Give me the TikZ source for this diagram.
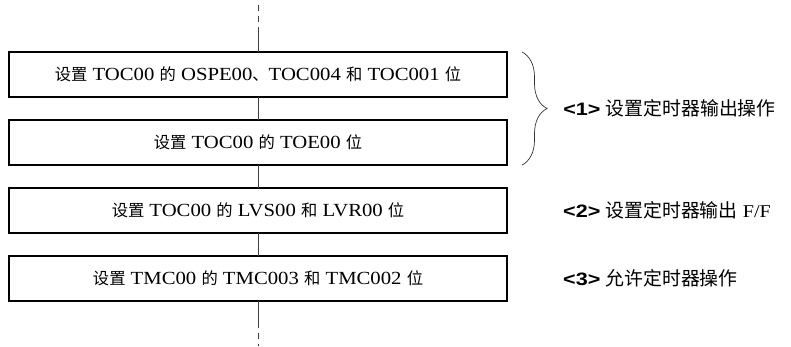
\documentclass[tikz,border=0pt]{standalone}
\usepackage{fontspec}
\setmainfont{Liberation Serif}[FakeStretch=1.12]
\newfontfamily\cjkfont{Noto Sans CJK SC}[Scale=0.88]
\newfontfamily\cjklabel{Noto Sans CJK SC}[Scale=1.05]
\newfontfamily\numfont{Liberation Sans}[FakeStretch=1.2]
\newcommand\zh[1]{{\cjkfont #1}}
\newcommand\zhl[1]{{\cjklabel #1}}
\newcommand\stepno[1]{{\numfont\bfseries <#1>}}
\usetikzlibrary{positioning, decorations.pathreplacing}
\tikzset{
  box/.style={draw=black, rectangle, line width=2.4pt, minimum width=498pt, minimum height=45pt, outer sep=0pt, inner sep=0pt, font=\fontsize{18.5}{22}\selectfont},
  line/.style={draw=black!75, line width=0.8pt},
  dashline/.style={line, dash pattern=on 6pt off 5pt},
  note/.style={anchor=west, inner sep=0pt, font=\fontsize{18}{22}\selectfont},
  bracket/.style={draw=black!80, line width=0.7pt, decorate, decoration={brace, amplitude=25pt}}
}

\begin{document}
\begin{tikzpicture}[x=1pt, y=1pt, node distance=23pt]
\useasboundingbox (0,0) rectangle (791,-346);

\node[box] (set1) at (258,-74.5) {\zh{设置} TOC00 \zh{的} OSPE00\zh{、}TOC004 \zh{和} TOC001 \zh{位}};

\node[box, below=of set1] (set2) {\zh{设置} TOC00 \zh{的} TOE00 \zh{位}};

\node[box, below=of set2] (set3) {\zh{设置} TOC00 \zh{的} LVS00 \zh{和} LVR00 \zh{位}};

\node[box, below=of set3] (set4) {\zh{设置} TMC00 \zh{的} TMC003 \zh{和} TMC002 \zh{位}};

% flow line
\coordinate[above=24pt of set1] (topjoin);
\coordinate[above=47pt of set1] (topend);
\coordinate[below=21pt of set4] (botjoin);
\coordinate[below=45pt of set4] (botend);

\draw[dashline] (topend) -- (topjoin);
\draw[line] (topjoin) -- (set1);
\draw[line] (set1) -- (set2);
\draw[line] (set2) -- (set3);
\draw[line] (set3) -- (set4);
\draw[line] (set4) -- (botjoin);
\draw[dashline] (botjoin) -- (botend);

% steps
\draw[bracket] ([xshift=15pt]set1.north east) -- ([xshift=15pt]set2.south east)
  node[note, midway, right=41pt] (note1) {\stepno{1} \zhl{设置定时器输出操作}};

\node[note] (note2) at (set3.east -| note1.west) {\stepno{2} \zhl{设置定时器输出} F/F};
\node[note] (note3) at (set4.east -| note1.west) {\stepno{3} \zhl{允许定时器操作}};

\end{tikzpicture}
\end{document}
